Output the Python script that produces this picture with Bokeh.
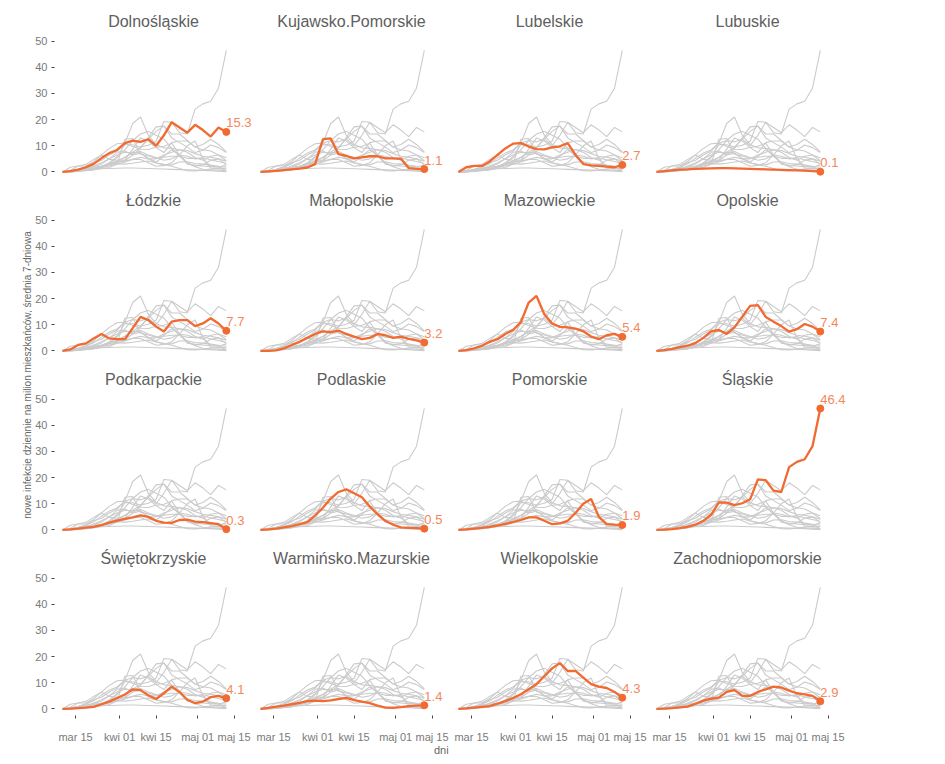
import math
import pandas as pd
from bokeh.plotting import figure
from bokeh.models import Range1d, FixedTicker, ColumnDataSource, LabelSet, Label, GridBox
from bokeh.layouts import row, column
from bokeh.core.properties import value
from bokeh.embed import file_html
from bokeh.resources import INLINE

# ---------------- data ----------------
dates = ["2020-03-10", "2020-03-13", "2020-03-16", "2020-03-19", "2020-03-22", "2020-03-25",
         "2020-03-28", "2020-03-31", "2020-04-03", "2020-04-06", "2020-04-09", "2020-04-12",
         "2020-04-15", "2020-04-18", "2020-04-21", "2020-04-24", "2020-04-27", "2020-04-30",
         "2020-05-03", "2020-05-06", "2020-05-09", "2020-05-12"]

regions = ["Dolnośląskie", "Kujawsko.Pomorskie", "Lubelskie", "Lubuskie",
           "Łódzkie", "Małopolskie", "Mazowieckie", "Opolskie",
           "Podkarpackie", "Podlaskie", "Pomorskie", "Śląskie",
           "Świętokrzyskie", "Warmińsko.Mazurskie", "Wielkopolskie", "Zachodniopomorskie"]

dolnoslaskie = [0, 0.3, 0.9, 1.8, 3.1, 5.3, 7.2, 8.4, 11.0, 12.0, 11.5, 12.5, 10.0, 14.0, 19.0, 17.0, 15.0, 18.0, 16.0, 13.5, 17.0, 15.3]
kujawsko_pomorskie = [0, 0.2, 0.4, 0.7, 1.0, 1.3, 1.7, 3.0, 12.5, 12.8, 6.8, 6.1, 5.2, 5.6, 6.0, 6.0, 5.2, 5.2, 5.0, 1.5, 1.2, 1.1]
lubelskie = [0, 1.8, 2.3, 2.3, 4.0, 6.5, 9.0, 10.8, 11.0, 9.7, 8.7, 8.6, 9.4, 9.8, 11.0, 6.5, 3.0, 2.5, 2.3, 2.0, 1.8, 2.7]
lubuskie = [0, 0.3, 0.6, 0.9, 1.0, 1.2, 1.3, 1.4, 1.5, 1.5, 1.4, 1.3, 1.2, 1.1, 1.0, 0.9, 0.8, 0.7, 0.6, 0.5, 0.3, 0.1]
lodzkie = [0, 0.6, 2.3, 2.9, 4.8, 6.5, 4.8, 4.5, 4.5, 8.7, 13.0, 11.8, 9.3, 7.4, 11.2, 11.8, 11.8, 9.5, 10.5, 12.5, 10.5, 7.7]
malopolskie = [0, 0, 0.2, 1.0, 2.3, 3.5, 5.0, 6.5, 7.5, 7.2, 7.8, 6.5, 5.5, 4.5, 5.0, 6.5, 6.0, 5.0, 5.5, 4.6, 4.0, 3.2]
mazowieckie = [0, 0.3, 1.0, 2.0, 3.5, 4.5, 6.5, 8.0, 11.0, 18.5, 21.0, 14.0, 10.5, 9.2, 9.0, 8.5, 7.5, 5.5, 4.5, 6.0, 6.5, 5.4]
opolskie = [0, 0.3, 0.8, 1.5, 2.0, 3.0, 5.0, 7.5, 8.0, 6.5, 9.0, 13.1, 17.2, 17.5, 13.0, 11.2, 9.5, 7.4, 8.3, 10.3, 9.3, 7.4]
podkarpackie = [0, 0.2, 0.5, 0.9, 1.2, 1.8, 2.8, 3.6, 4.2, 4.8, 5.6, 5.0, 3.5, 2.8, 2.7, 3.8, 3.9, 3.2, 3.0, 2.6, 2.2, 0.3]
podlaskie = [0, 0.2, 0.5, 1.0, 1.5, 2.2, 3.0, 5.5, 8.5, 12.0, 14.5, 15.5, 14.0, 12.5, 9.0, 6.0, 3.5, 2.0, 1.0, 0.8, 0.7, 0.5]
pomorskie = [0, 0.2, 0.5, 0.8, 1.2, 1.7, 2.3, 3.0, 3.8, 4.8, 4.8, 3.5, 2.2, 2.5, 3.5, 6.5, 10.0, 11.8, 5.0, 2.2, 2.0, 1.9]
slaskie = [0, 0.1, 0.3, 0.7, 1.2, 2.0, 3.5, 5.8, 10.5, 10.4, 9.5, 10.2, 11.7, 19.3, 19.0, 15.0, 14.5, 24.0, 26.0, 27.0, 32.0, 46.4]
swietokrzyskie = [0, 0.1, 0.3, 0.5, 0.8, 1.8, 2.8, 4.2, 5.5, 7.5, 7.2, 5.2, 3.8, 6.0, 8.5, 6.5, 3.5, 2.2, 2.8, 4.5, 5.0, 4.1]
warminsko_mazurskie = [0, 0.4, 0.9, 1.3, 1.8, 2.3, 3.0, 3.2, 3.0, 3.3, 3.8, 4.2, 3.4, 2.8, 2.2, 1.3, 0.5, 0.4, 0.7, 1.1, 1.3, 1.4]
wielkopolskie = [0, 0.2, 0.5, 0.8, 1.1, 2.0, 3.0, 4.2, 5.6, 7.5, 9.5, 12.5, 15.5, 17.5, 14.5, 14.5, 12.0, 9.5, 8.5, 8.0, 6.5, 4.3]
zachodniopomorskie = [0, 0.1, 0.3, 0.6, 0.9, 2.0, 3.2, 3.9, 4.3, 6.5, 7.2, 5.0, 5.0, 6.5, 7.5, 8.5, 8.2, 7.0, 6.0, 5.6, 5.0, 2.9]

series = [dolnoslaskie, kujawsko_pomorskie, lubelskie, lubuskie,
          lodzkie, malopolskie, mazowieckie, opolskie,
          podkarpackie, podlaskie, pomorskie, slaskie,
          swietokrzyskie, warminsko_mazurskie, wielkopolskie, zachodniopomorskie]

tick_dates = ["2020-03-15", "2020-04-01", "2020-04-15", "2020-05-01", "2020-05-15"]
tick_labels = ["mar 15", "kwi 01", "kwi 15", "maj 01", "maj 15"]
y_ticks = [0, 10, 20, 30, 40, 50]

y_title = "nowe infekcje dziennie na milion mieszkańców, średnia 7-dniowa"
x_title = "dni"

# ---------------- styling ----------------
FONT = "Liberation Sans"
ORANGE = "#f26a30"
ORANGE_TXT = "#f4875c"
GREY = "#cbcbcb"
FW, FH = 198, 144

origin = pd.Timestamp("2020-03-01")


def day_num(s):
    return float((pd.Timestamp(s) - origin).days)


xs = [day_num(d) for d in dates]
tick_x = [day_num(d) for d in tick_dates]
x_lo = tick_x[0] - 8.08
x_hi = x_lo + FW / 2.6

grey_src = ColumnDataSource(dict(xs=[xs] * len(series), ys=series))

children = []
for i, (name, vals) in enumerate(zip(regions, series)):
    r, c = divmod(i, 4)
    bottom = r == 3
    left = c == 0
    p = figure(frame_width=FW, frame_height=FH,
               x_range=Range1d(x_lo, x_hi), y_range=Range1d(-2.5, 52.5),
               output_backend="svg", toolbar_location=None,
               x_axis_location="below" if bottom else None,
               y_axis_location="left" if left else None,
               min_border_left=0, min_border_right=0,
               min_border_top=34 if r == 0 else 28,
               min_border_bottom=0 if bottom else 7,
               title=name)
    p.outline_line_color = None
    p.grid.visible = False
    p.title.align = "center"
    p.title.text_font = FONT
    p.title.text_font_size = "16px"
    p.title.text_font_style = "normal"
    p.title.text_color = "#5e5e5e"
    p.title.standoff = 9

    if left:
        ax = p.yaxis[0]
        ax.ticker = FixedTicker(ticks=y_ticks)
        ax.axis_line_color = None
        ax.major_tick_line_color = "#444444"
        ax.major_tick_out = 3
        ax.major_tick_in = 0
        ax.minor_tick_line_color = None
        ax.major_label_standoff = 4
        ax.major_label_text_font = FONT
        ax.major_label_text_font_size = "11px"
        ax.major_label_text_color = "#7a7a7a"
    if bottom:
        ax = p.xaxis[0]
        ax.ticker = FixedTicker(ticks=tick_x)
        ax.major_label_overrides = {t: l for t, l in zip(tick_x, tick_labels)}
        ax.axis_line_color = None
        ax.major_tick_line_color = "#444444"
        ax.major_tick_out = 3
        ax.major_tick_in = 0
        ax.minor_tick_line_color = None
        ax.major_label_standoff = 12
        ax.major_label_text_font = FONT
        ax.major_label_text_font_size = "11px"
        ax.major_label_text_color = "#7a7a7a"

    p.multi_line("xs", "ys", source=grey_src, line_color=GREY, line_width=1.1)
    p.line(xs, vals, line_color=ORANGE, line_width=2.3)
    p.scatter([xs[-1]], [vals[-1]], size=7, color=ORANGE)
    lab_src = ColumnDataSource(dict(x=[xs[-1]], y=[vals[-1]], t=[f"{vals[-1]:.1f}"]))
    p.add_layout(LabelSet(x="x", y="y", text="t", source=lab_src, x_offset=0, y_offset=9,
                          text_font=value(FONT), text_font_size=value("13px"),
                          text_color=ORANGE_TXT,
                          text_align="left", text_baseline="middle"))
    children.append((p, r, c))

grid = GridBox(children=children, spacing=0)

# y title strip
ylab = figure(width=32, height=749, output_backend="svg", toolbar_location=None,
              x_axis_location=None, y_axis_location=None,
              x_range=Range1d(0, 1), y_range=Range1d(0, 1), min_border=0)
ylab.outline_line_color = None
ylab.grid.visible = False
ylab.add_layout(Label(x=0.84, y=0.5, text=y_title, angle=math.pi / 2,
                      text_align="center", text_baseline="middle",
                      text_font=FONT, text_font_size="10px", text_color="#666666"))

# x title strip
xlab = figure(width=811, height=16, output_backend="svg", toolbar_location=None,
              x_axis_location=None, y_axis_location=None,
              x_range=Range1d(0, 1), y_range=Range1d(0, 1), min_border=0)
xlab.outline_line_color = None
xlab.grid.visible = False
xlab.add_layout(Label(x=0.504, y=0.75, text=x_title,
                      text_align="center", text_baseline="middle",
                      text_font=FONT, text_font_size="11px", text_color="#666666"))

layout = row(ylab, column(grid, xlab))

open("out.html", "w").write(file_html(layout, INLINE))
